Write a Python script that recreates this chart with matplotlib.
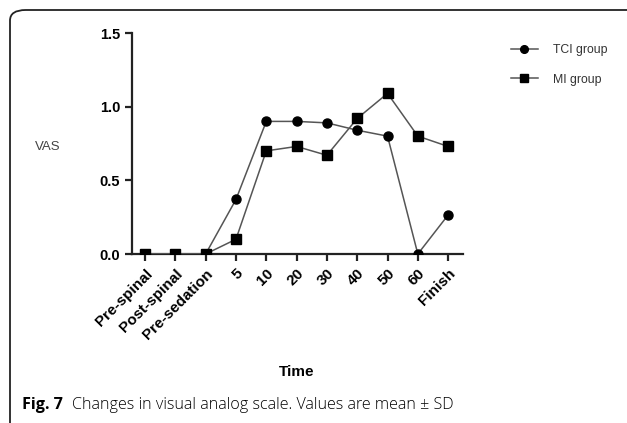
import numpy as np
import matplotlib.pyplot as plt
from matplotlib.patches import FancyBboxPatch

times = ["Pre-spinal", "Post-spinal", "Pre-sedation", "5", "10", "20", "30", "40", "50", "60", "Finish"]
tci = [0, 0, 0, 0.37, 0.90, 0.90, 0.89, 0.84, 0.80, 0.0, 0.265]
mi = [0, 0, 0, 0.10, 0.70, 0.73, 0.67, 0.92, 1.09, 0.80, 0.73]

plt.rcParams['font.family'] = ['Liberation Sans', 'DejaVu Sans']

fig = plt.figure(figsize=(6.27, 4.23), dpi=100)
ax = fig.add_axes([132/627, 1-254/423, (463-132)/627, (254-33)/423])

x = np.arange(len(times))
ax.plot(x, tci, color='#555555', lw=1.1, marker='o', ms=6.5, mfc='black', mec='black', label='TCI group', zorder=3)
ax.plot(x, mi, color='#555555', lw=1.1, marker='s', ms=6.5, mfc='black', mec='black', label='MI group', zorder=3)

ax.set_xlim(-0.43, 10.49)
ax.set_ylim(0, 1.5)
ax.set_yticks([0, 0.5, 1.0, 1.5])
ax.set_yticklabels(["0.0", "0.5", "1.0", "1.5"], fontweight='bold', fontsize=10.5)
ax.set_xticks(x)
ax.set_xticklabels(times, rotation=45, ha='right', rotation_mode='anchor', fontweight='bold', fontsize=11)
for s in ['top', 'right']:
    ax.spines[s].set_visible(False)
for s in ['left', 'bottom']:
    ax.spines[s].set_linewidth(1.6)
    ax.spines[s].set_color('#222222')
ax.tick_params(width=1.6, length=5, color='#222222')
ax.tick_params(axis='x', pad=4)

leg = ax.legend(loc='upper left', bbox_to_anchor=(500/627, 1-33/423), bbox_transform=fig.transFigure,
                frameon=False, fontsize=8.8, labelspacing=1.45, handlelength=2.2, handletextpad=1.2,
                markerscale=0.85)
for t in leg.get_texts():
    t.set_color('#333333')

fig.text(35/627, 1-147/423, "VAS", fontsize=9.5, color='#444444', va='center')
fig.text(297/627, 1-372/423, "Time", fontsize=11, fontweight='bold', ha='center', va='center')

fig.text(22/627, 1-405/423, "Fig. 7", fontsize=11.6, fontweight='bold', family='Open Sans', va='center')
fig.text(72/627, 1-405/423, "Changes in visual analog scale. Values are mean \u00b1 SD", fontsize=11.6,
         family='Open Sans', fontweight='light', va='center')

frame = FancyBboxPatch((10/627, -0.05), 640/627, 1.05 - 10/423,
                       boxstyle='round,pad=0,rounding_size=0.025', transform=fig.transFigure,
                       fill=False, ec='#222222', lw=1.3)
fig.patches.append(frame)

fig.savefig('out.png', dpi=100)
